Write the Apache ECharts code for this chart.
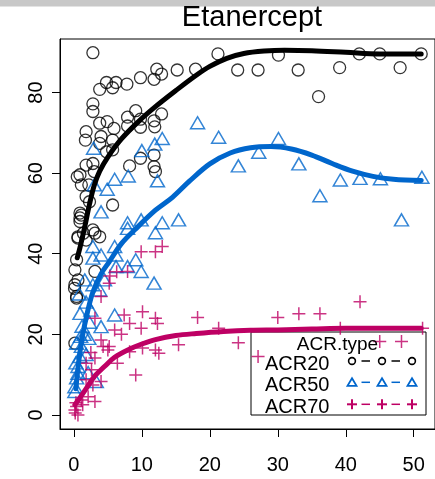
<!DOCTYPE html>
<html>
<head>
<meta charset="utf-8">
<script src="https://cdn.jsdelivr.net/npm/echarts@6/dist/echarts.min.js"></script>
<style>
html,body{margin:0;padding:0;background:#fff;}
#chart{width:435px;height:479px;}
</style>
</head>
<body>
<div id="chart"></div>
<script>
var chartTitle = 'Etanercept';
var legendTitle = 'ACR.type';
var seriesNames = ['ACR20', 'ACR50', 'ACR70'];
var xTicks = [0, 10, 20, 30, 40, 50];
var yTicks = [0, 20, 40, 60, 80];

var acr20Points = [
  [2.8,89.9],[12.2,85.8],[12.9,84.6],[11.8,83.3],[15.2,85.6],[17.9,85.8],[9.8,83.7],[7.8,82.1],
  [6.2,82.5],[4.8,82.5],[5.7,81.2],[3.8,80.8],[2.8,77.2],[2.8,75.3],[9.1,75.5],[7.9,73.9],
  [12.9,74.7],[11.8,73.0],[9.8,73.4],[3.8,72.4],[4.9,72.8],[7.9,71.7],[9.8,71.4],[11.9,71.5],
  [5.9,71.1],[1.8,70.3],[4.0,69.1],[5.7,68.2],[1.7,68.2],[4.8,65.3],[5.7,65.8],[11.8,64.5],
  [3.8,67.4],[1.8,62.0],[2.8,62.4],[8.2,61.8],[9.8,63.7],[11.8,61.6],[0.5,59.1],[3.0,60.4],
  [2.2,57.1],[5.7,52.1],[1.8,54.2],[1.1,49.6],[0.9,59.6],[1.1,57.1],[2.3,52.9],[0.9,50.1],
  [0.9,48.9],[0.9,48.0],[2.8,45.9],[0.6,44.2],[1.8,43.4],[1.4,45.1],[3.1,45.1],[3.8,44.2],
  [0.15,36.0],[0.6,33.5],[0.1,31.4],[0.4,29.4],[3.1,35.6],[0.15,32.3],[0.4,29.0],[0.15,17.8],
  [12.0,60.4],[0.4,38.5],[0.6,43.9],
  [21.2,89.6],[24.1,85.6],[27.1,85.6],[30.1,89.3],[33.0,85.6],[36.0,79.0],[39.1,86.2],
  [42.0,89.6],[45.0,89.6],[48.0,86.2],[51.1,89.6]
];
var acr50Points = [
  [18.2,72.5],[21.3,68.9],[30.1,68.6],[27.2,65.2],[24.2,61.8],[33.1,62.3],[36.2,54.4],[39.2,58.3],
  [42.1,58.7],[45.1,58.6],[51.2,59.0],[48.2,48.4],[15.4,48.4],
  [13.0,68.6],[11.9,67.2],[10.0,65.6],[2.9,66.2],
  [8.0,59.3],[6.0,58.5],[3.0,57.1],[4.9,56.0],[12.3,58.1],[4.0,50.4],[7.9,47.7],[9.9,48.4],[13.0,47.7],
  [7.9,46.3],[12.0,45.2],[2.8,41.8],[6.0,41.8],[2.8,38.9],[4.0,39.7],[6.2,39.7],[9.1,38.5],
  [7.9,36.8],[9.9,35.6],[11.8,32.7],[1.6,33.5],[2.8,32.3],[4.5,33.5],[6.2,36.8],
  [3.8,31.0],[0.9,25.2],[6.0,24.8],[4.0,21.9],[0.4,17.8],[1.1,17.0],[0.9,14.5],[0.6,12.0],
  [3.3,8.3],[0.15,7.0],[0.15,5.8],[0.6,10.3],[0.4,9.2],[0.3,12.9],[1.8,28.0],[2.5,26.0],
  [1.2,22.0],[1.5,20.0],[2.2,19.0],[0.8,30.0],[2.3,23.0],[1.0,19.5],[1.8,15.0],[2.1,10.5]
];
var acr70Points = [
  [18.2,24.2],[21.3,21.5],[24.2,17.9],[27.1,14.5],[30.0,24.2],[33.1,25.1],[36.2,25.1],[42.1,28.1],
  [39.2,21.5],[45.0,18.2],[48.2,18.2],[51.3,21.5],[15.4,17.4],
  [13.0,41.8],[12.0,40.5],[9.9,40.5],[7.9,35.6],[5.3,34.5],[6.3,35.5],[5.2,32.7],[4.0,29.4],
  [10.1,25.6],[12.0,24.0],[12.3,22.7],[3.1,24.0],[8.2,22.7],[9.9,21.5],[6.0,21.1],[4.0,18.6],
  [4.3,17.0],[5.2,17.0],[12.0,16.1],[12.5,15.3],[10.1,16.6],[8.2,15.7],[6.4,12.8],[9.1,9.9],
  [3.1,14.1],[1.8,12.8],[2.6,11.2],[4.0,8.3],[2.8,7.4],[2.1,4.5],[3.1,3.3],[0.4,2.1],[0.6,0.0],
  [0.15,1.2],[1.1,3.7],[1.8,8.7],[5.0,16.1],[7.4,24.8],[0.3,3.0],[0.2,0.5],[1.3,2.5],[2.5,15.5],[7.0,20.0]
];

var acr20Fit = [[0.5,39],[0.9,41.5],[1.6,46.7],[2.3,52.3],[3.0,57],[3.8,60.5],[5,64],[7,68.5],[9.5,72.8],
  [12,76.5],[15,80.5],[18,84.3],[20,86.5],[22.5,88.5],[25,89.7],[28,90.3],[31,90.5],[35,90.4],[40,90],[45,89.6],[51.1,89.6]];
var acr50Fit = [[0.3,6.5],[0.7,13],[1.2,19],[2,25.5],[2.8,30.5],[4,35],[5.2,38],[7,42.5],[9,46],[12,50.8],
  [14.5,54],[17,58],[20,62.3],[23,65],[26,66.3],[29,66.6],[32,66],[35,64.5],[38,62.4],[41,60.5],[44,59.2],[47,58.5],[51.1,58.2]];
var acr70Fit = [[0.15,2.5],[1,4.5],[2,7],[3,9.5],[4.5,12],[6,14.3],[8,16.2],[10,17.6],[12,18.7],[15,19.7],
  [18,20.2],[22,20.7],[26,21],[30,21.1],[35,21.3],[40,21.5],[45,21.5],[51.1,21.5]];

var BLACK = '#000000', BLUE = '#0066cc', MAG = '#be0064';
var FONT = '"Liberation Sans", Arial, Helvetica, sans-serif';
var plusPath = 'path://M0,6.5L13,6.5M6.5,0L6.5,13';

var chart = echarts.init(document.getElementById('chart'), null, {renderer: 'canvas'});

function scatter(name, data, symbol, size, color, bw) {
  return {
    name: name, type: 'scatter', data: data, symbol: symbol, symbolSize: size,
    itemStyle: {color: symbol === plusPath ? color : 'rgba(0,0,0,0)', borderColor: color, borderWidth: bw},
    emphasis: {disabled: true}, z: 2, silent: true
  };
}
function fit(name, data, color) {
  return {
    name: name + ' fit', type: 'line', data: data, smooth: 0.35, showSymbol: false, symbol: 'none',
    lineStyle: {color: color, width: 5, cap: 'round'}, z: 3, silent: true
  };
}

var legendX = 251, legendY = 332, legendW = 175, legendH = 83;
var rows = [361, 382.3, 404.3];
var symXs = [352, 382, 412];
var legendGraphics = [
  {type: 'rect', shape: {x: legendX, y: legendY, width: legendW, height: legendH},
   style: {fill: 'none', stroke: '#000', lineWidth: 1}, z: 1},
  {type: 'text', x: 337.5, y: 344.5, style: {text: legendTitle, font: '19px ' + FONT, fill: '#000', align: 'center', verticalAlign: 'middle'}, z: 5},
  {type: 'text', x: 265, y: 364.2, style: {text: seriesNames[0], font: '20px ' + FONT, fill: '#000', align: 'left', verticalAlign: 'middle'}, z: 5},
  {type: 'text', x: 265, y: 385.8, style: {text: seriesNames[1], font: '20px ' + FONT, fill: '#000', align: 'left', verticalAlign: 'middle'}, z: 5},
  {type: 'text', x: 265, y: 407, style: {text: seriesNames[2], font: '20px ' + FONT, fill: '#000', align: 'left', verticalAlign: 'middle'}, z: 5}
];
var rowColors = [BLACK, BLUE, MAG];
rows.forEach(function (ry, i) {
  var c = rowColors[i];
  legendGraphics.push({type: 'line', shape: {x1: 361.5, y1: ry, x2: 370, y2: ry}, style: {stroke: c, lineWidth: 1.5}, z: 5});
  legendGraphics.push({type: 'line', shape: {x1: 391.5, y1: ry, x2: 400, y2: ry}, style: {stroke: c, lineWidth: 1.5}, z: 5});
  symXs.forEach(function (sx) {
    if (i === 0) {
      legendGraphics.push({type: 'circle', shape: {cx: sx, cy: ry, r: 3.4}, style: {fill: 'none', stroke: c, lineWidth: 1.6}, z: 5});
    } else if (i === 1) {
      legendGraphics.push({type: 'polygon', shape: {points: [[sx, ry - 4], [sx + 4.5, ry + 3.5], [sx - 4.5, ry + 3.5]]}, style: {fill: 'none', stroke: c, lineWidth: 1.8}, z: 5});
    } else {
      legendGraphics.push({type: 'line', shape: {x1: sx - 5, y1: ry, x2: sx + 5, y2: ry}, style: {stroke: c, lineWidth: 2}, z: 5});
      legendGraphics.push({type: 'line', shape: {x1: sx, y1: ry - 5, x2: sx, y2: ry + 5}, style: {stroke: c, lineWidth: 2}, z: 5});
    }
  });
});

var option = {
  animation: false,
  backgroundColor: '#ffffff',
  grid: {left: 60, top: 39, width: 379, height: 390, show: true, borderColor: '#000', borderWidth: 1, backgroundColor: 'transparent'},
  xAxis: {
    type: 'value', min: -2.04, max: 53.13,
    axisLine: {show: true, onZero: false, lineStyle: {color: '#000', width: 1}},
    axisTick: {show: true, length: 8, inside: false, customValues: xTicks, lineStyle: {color: '#000', width: 1}},
    axisLabel: {show: true, customValues: xTicks, fontSize: 20, fontFamily: FONT, color: '#000', margin: 26},
    splitLine: {show: false}
  },
  yAxis: {
    type: 'value', min: -3.5, max: 93.3,
    axisLine: {show: true, onZero: false, lineStyle: {color: '#000', width: 1}},
    axisTick: {show: true, length: 8, inside: false, customValues: yTicks, lineStyle: {color: '#000', width: 1}},
    axisLabel: {show: true, customValues: yTicks, fontSize: 20, fontFamily: FONT, color: '#000', rotate: 90, margin: 14},
    splitLine: {show: false}
  },
  graphic: [
    {type: 'rect', shape: {x: 0, y: 0, width: 435, height: 6.5}, style: {fill: '#c8c8c8'}, z: 10},
    {type: 'text', x: 252, y: 17.5, style: {text: chartTitle, font: '29px ' + FONT, fill: '#000', align: 'center', verticalAlign: 'middle'}, z: 10}
  ].concat(legendGraphics),
  series: [
    scatter(seriesNames[0], acr20Points, 'circle', 12, BLACK, 1.3),
    scatter(seriesNames[1], acr50Points, 'triangle', [14, 12], BLUE, 1.5),
    scatter(seriesNames[2], acr70Points, plusPath, 13, MAG, 1.5),
    fit(seriesNames[0], acr20Fit, BLACK),
    fit(seriesNames[1], acr50Fit, BLUE),
    fit(seriesNames[2], acr70Fit, MAG)
  ]
};
chart.setOption(option);
</script>
</body>
</html>
